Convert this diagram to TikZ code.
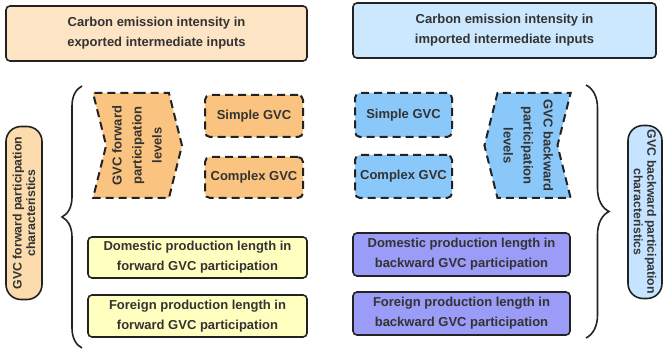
\documentclass[tikz,border=0pt]{standalone}
\usepackage{fontspec}
\setmainfont{Liberation Sans}
\usetikzlibrary{shapes.symbols,decorations.pathreplacing}

\definecolor{edgegray}{RGB}{34,34,34}
\definecolor{txtgray}{RGB}{51,51,51}
\definecolor{exporange}{RGB}{253,228,197}
\definecolor{impblue}{RGB}{204,232,255}
\definecolor{fwdorange}{RGB}{250,196,128}
\definecolor{bwdblue}{RGB}{139,200,250}
\definecolor{fwdyellow}{RGB}{255,255,192}
\definecolor{bwdpurple}{RGB}{155,155,248}
\definecolor{fwdell}{RGB}{252,220,172}
\definecolor{bwdell}{RGB}{198,228,255}

\begin{document}
\begin{tikzpicture}[
  x=1pt, y=-1pt,
  every node/.style={font=\fontsize{13}{20}\selectfont\bfseries, text=txtgray},
  solidbox/.style={draw=edgegray, line width=1.6pt, rounded corners=4pt, align=center, inner sep=0pt},
  dashbox/.style={draw=edgegray, line width=2pt, dash pattern=on 8pt off 5pt,
                  rounded corners=5pt, align=center, inner sep=0pt},
  levsig/.style={dashbox, rounded corners=0pt, shape=signal, signal pointer angle=152,
                 minimum width=89pt, minimum height=105pt},
  charell/.style={draw=edgegray, line width=1.6pt, rounded corners=15pt, inner sep=0pt, align=center,
                  minimum width=173pt, minimum height=34pt,
                  font=\fontsize{12.3}{13.5}\selectfont\bfseries},
  bracel/.style={draw=edgegray, line width=1.6pt, decorate, decoration={brace, amplitude=#1}}
]
\useasboundingbox (0,0) rectangle (671,352);

% top boxes
\node[solidbox, fill=exporange, minimum width=301pt, minimum height=55pt] (exptop) at (156.5,33.5)
  {Carbon emission intensity in\\exported intermediate inputs};
\node[solidbox, fill=impblue, minimum width=303pt, minimum height=55pt] (imptop) at (504.5,30.5)
  {Carbon emission intensity in\\imported intermediate inputs};

% forward side
\node[levsig, fill=fwdorange, signal to=east, signal from=west] (fwdlev) at (137.5,145.5)
  {\rotatebox{90}{\begin{tabular}{@{}c@{}}GVC forward\\participation\\levels\end{tabular}}};
\node[dashbox, fill=fwdorange, minimum width=98pt, minimum height=42pt] (fwdsimple) at (254,116) {Simple GVC};
\node[dashbox, fill=fwdorange, minimum width=98pt, minimum height=41pt] (fwdcomplex) at (254,177.5) {Complex GVC};
\node[solidbox, fill=fwdyellow, minimum width=219pt, minimum height=41pt] (fwddom) at (197.5,257.5)
  {Domestic production length in\\forward GVC participation};
\node[solidbox, fill=fwdyellow, minimum width=219pt, minimum height=42pt] (fwdfor) at (197.5,316)
  {Foreign production length in\\forward GVC participation};
\node[charell, fill=fwdell, rotate=90, minimum height=36pt] (fwdchar) at (24,213)
  {GVC forward participation\\characteristics};

% backward side
\node[dashbox, fill=bwdblue, minimum width=97pt, minimum height=44pt] (bwdsimple) at (403.5,115) {Simple GVC};
\node[dashbox, fill=bwdblue, minimum width=97pt, minimum height=43pt] (bwdcomplex) at (403.5,176.5) {Complex GVC};
\node[levsig, fill=bwdblue, minimum width=79pt, signal to=west, signal from=east] (bwdlev) at (527.5,145.5)
  {\rotatebox{-90}{\begin{tabular}{@{}c@{}}GVC backward\\participation\\levels\end{tabular}}};
\node[solidbox, fill=bwdpurple, minimum width=217pt, minimum height=43pt] (bwddom) at (461.5,254.5)
  {Domestic production length in\\backward GVC participation};
\node[solidbox, fill=bwdpurple, minimum width=217pt, minimum height=43pt] (bwdfor) at (461.5,313.5)
  {Foreign production length in\\backward GVC participation};
\node[charell, fill=bwdell, rotate=-90] (bwdchar) at (645,212)
  {GVC backward participation\\characteristics};

% braces
\coordinate (fwdtop) at (82,86);
\coordinate (fwdbot) at (82,348);
\coordinate (bwdtop) at (586,85);
\coordinate (bwdbot) at (586,338);
\draw[bracel=20pt] (fwdbot) -- (fwdtop);
\draw[bracel=23pt] (bwdtop) -- (bwdbot);
\end{tikzpicture}
\end{document}
